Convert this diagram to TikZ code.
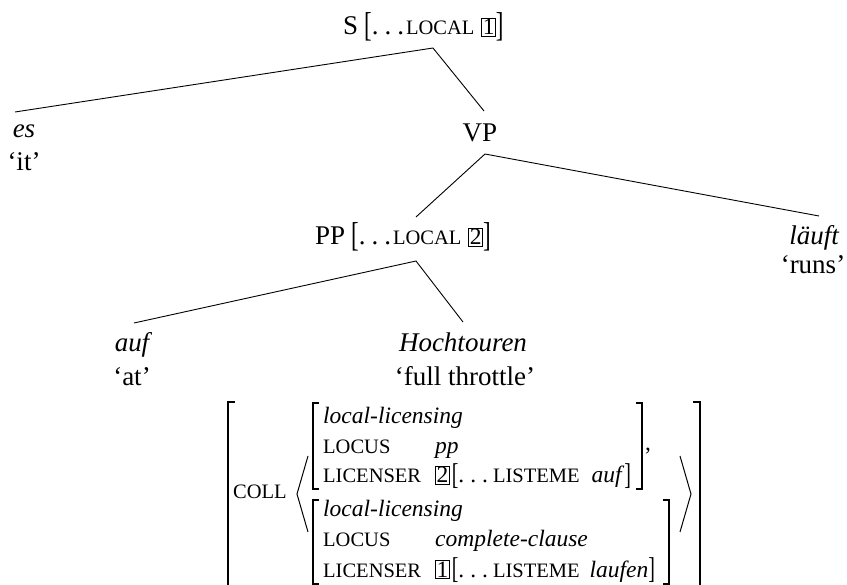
\documentclass[tikz,border=0pt]{standalone}
\usepackage{fontspec}
\setmainfont{Liberation Serif}
\usepackage{graphicx}

% small capitals, faked from reduced upright capitals
\newcommand\smcap[1]{{\fontsize{20.5}{20.5}\selectfont #1}}
% boxed tag numbers
\newcommand\boxnum[1]{{\setlength\fboxsep{0.8pt}\setlength\fboxrule{0.6pt}\fbox{\fontsize{23.5}{24}\selectfont #1}}}
% slightly enlarged, thin square brackets
\newcommand\tallbk[1]{\raisebox{-1.2pt}{\scalebox{0.85}[1.28]{#1}}}
% widely spaced ellipsis
\newcommand\spdots[1]{.\kern#1.\kern#1.}

\tikzset{
  treefont/.style={font=\fontsize{27}{32}\selectfont},
  avmfont/.style={font=\fontsize{23.5}{28}\selectfont},
  lbl/.style={inner sep=0pt, anchor=base},
  lblw/.style={inner sep=0pt, anchor=base west},
  edge/.style={line width=0.9pt},
  brk/.style={line width=1.3pt},
  outerbrk/.style={line width=1.5pt},
  angl/.style={line width=1pt},
}

\begin{document}
\begin{tikzpicture}[x=1pt,y=-1pt]
\fill[white] (0,0) rectangle (847,585);
\useasboundingbox (0,0) rectangle (847,585);

% ---- tree labels ----
\node[treefont, lblw] (S) at (343,35)
  {S\hspace{6pt}\tallbk{[}\spdots{6pt}\hspace{2pt}\smcap{LOCAL}\hspace{7pt}\boxnum{1}\tallbk{]}};
\node[treefont, lbl] (es) at (24,138) {\itshape es};
\node[treefont, lbl] (it) at (24,171) {`it'};
\node[treefont, lbl] (VP) at (480,142) {VP};
\node[treefont, lblw] (PP) at (315,245)
  {PP\hspace{6pt}\tallbk{[}\spdots{6pt}\hspace{2pt}\smcap{LOCAL}\hspace{7pt}\boxnum{2}\tallbk{]}};
\node[treefont, lbl] (laeuft) at (814,245) {\itshape läuft};
\node[treefont, lbl] (runs) at (813,274) {`runs'};
\node[treefont, lbl] (auf) at (132,352) {\itshape auf};
\node[treefont, lbl] (at) at (132,386) {`at'};
\node[treefont, lbl] (hoch) at (463,352) {\itshape Hochtouren};
\node[treefont, lbl] (throttle) at (465,386) {`full throttle'};

% ---- branch end points ----
\coordinate (S-foot) at (433,48);
\coordinate (es-head) at (15,112);
\coordinate (VP-head) at (484,111);
\coordinate (VP-foot) at (485,154);
\coordinate (PP-head) at (416,217);
\coordinate (laeuft-head) at (819,216);
\coordinate (PP-foot) at (416,261);
\coordinate (auf-head) at (134,323);
\coordinate (hoch-head) at (463,322);

\draw[edge] (es-head) -- (S-foot) -- (VP-head);
\draw[edge] (PP-head) -- (VP-foot) -- (laeuft-head);
\draw[edge] (auf-head) -- (PP-foot) -- (hoch-head);

% ---- attribute-value matrix ----
\node[lblw] (coll) at (233,499) {\smcap{COLL}};

\node[avmfont, lblw] (r1) at (323,424) {\itshape local-licensing};
\node[lblw] (r2a) at (323,454) {\smcap{LOCUS}};
\node[avmfont, lblw] (r2b) at (435,454) {\itshape pp};
\node[lblw] (r3a) at (323,483) {\smcap{LICENSER}};
\node[avmfont, lblw] (r3b) at (435,483)
  {\boxnum{2}\hspace{2pt}\tallbk{[}\spdots{6pt}\hspace{5pt}\smcap{LISTEME}\hspace{12pt}\textit{auf}\tallbk{]}};
\node[avmfont, lblw] (comma) at (645,451) {,};

\node[avmfont, lblw] (r4) at (323,517) {\itshape local-licensing};
\node[lblw] (r5a) at (323,547) {\smcap{LOCUS}};
\node[avmfont, lblw] (r5b) at (435,547) {\itshape complete-clause};
\node[lblw] (r6a) at (323,577) {\smcap{LICENSER}};
\node[avmfont, lblw] (r6b) at (435,577)
  {\boxnum{1}\hspace{2pt}\tallbk{[}\spdots{6pt}\hspace{5pt}\smcap{LISTEME}\hspace{10pt}\textit{laufen}\tallbk{]}};

% outer brackets
\draw[outerbrk] (235,402) -- (228,402) -- (228,600) -- (235,600);
\draw[outerbrk] (693,402) -- (700,402) -- (700,600) -- (693,600);
% inner brackets, first value
\draw[brk] (319,403) -- (313,403) -- (313,489) -- (319,489);
\draw[brk] (636,403) -- (642,403) -- (642,489) -- (636,489);
% inner brackets, second value
\draw[brk] (319,500) -- (313,500) -- (313,584) -- (319,584);
\draw[brk] (663,500) -- (669,500) -- (669,584) -- (663,584);
% list angles
\draw[angl] (308,456) -- (297,494) -- (308,532);
\draw[angl] (680,456) -- (691,494) -- (680,532);
\end{tikzpicture}
\end{document}
